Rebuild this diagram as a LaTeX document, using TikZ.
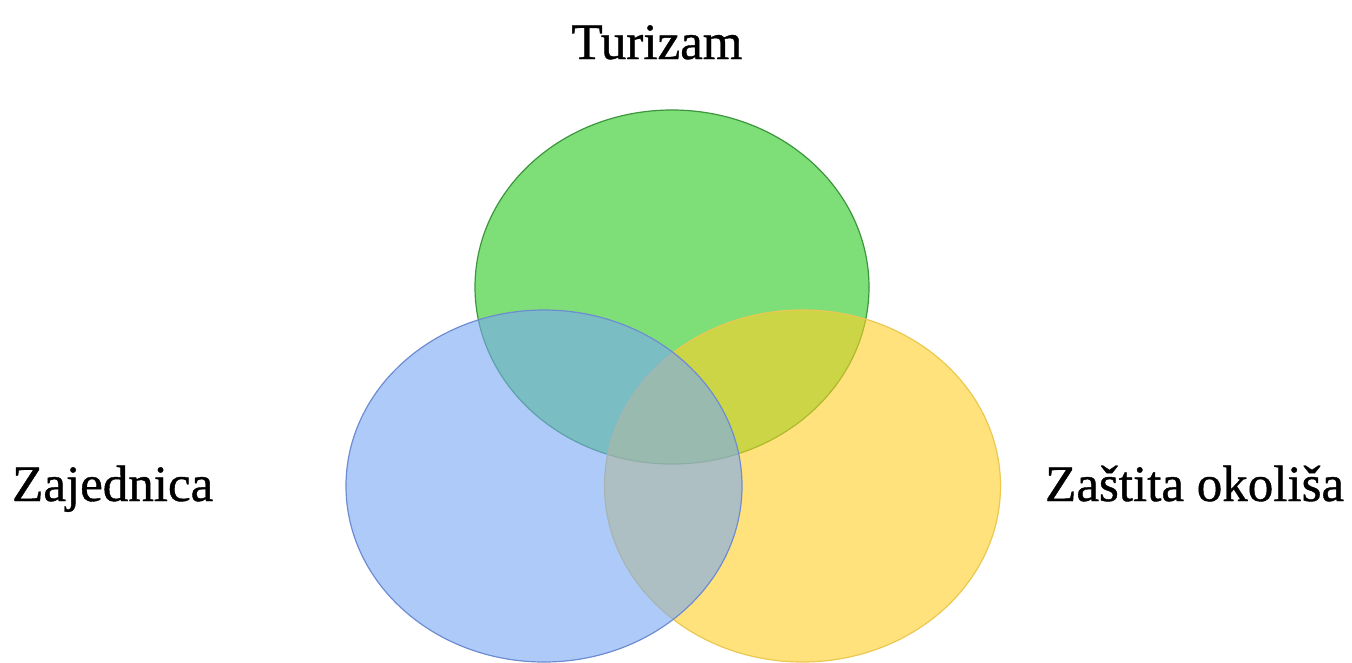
\documentclass[tikz,border=0pt]{standalone}
\usepackage{fontspec}
\setmainfont{Liberation Serif}
\newfontfamily\lblfont[FakeBold=0.8]{Liberation Serif}
\definecolor{gbase}{RGB}{40,202,33}
\definecolor{bbase}{RGB}{120,168,245}
\definecolor{ybase}{RGB}{255,207,37}
\definecolor{gline}{RGB}{60,150,60}
\definecolor{bline}{RGB}{110,140,210}
\definecolor{yline}{RGB}{235,200,80}
\tikzset{
  setfill/.style={fill opacity=0.6, line width=1.2pt},
  lbl/.style={font=\lblfont\fontsize{51}{60}\selectfont, text=black, inner sep=0pt}
}
\begin{document}
\begin{tikzpicture}[x=1pt,y=-1pt]
\useasboundingbox (0,0) rectangle (1352,662);
\fill[white] (0,0) rectangle (1352,662);
\draw[setfill, fill=gbase, draw=gline] (672,287) ellipse [x radius=197, y radius=177];
\draw[setfill, fill=ybase, draw=yline] (802.5,486) ellipse [x radius=198, y radius=176];
\draw[setfill, fill=bbase, draw=bline] (544,486) ellipse [x radius=198, y radius=176];
\node[lbl, anchor=base] (tur) at (657,59) {Turizam};
\node[lbl, anchor=base west] (zaj) at (12,501) {Zajednica};
\node[lbl, anchor=base west] (zas) at (1045,501) {Zaštita okoliša};
\end{tikzpicture}
\end{document}
